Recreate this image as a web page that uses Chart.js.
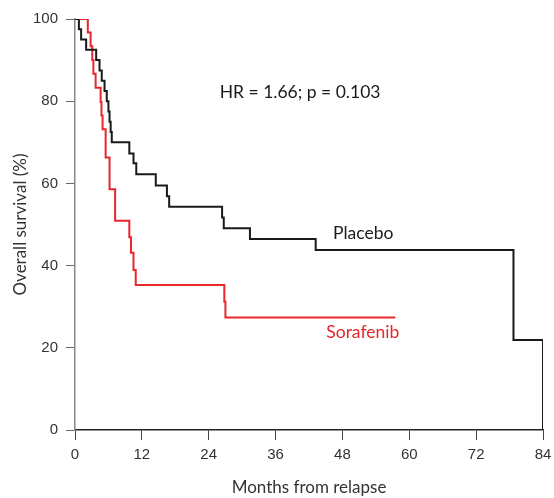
<!DOCTYPE html>
<html>
<head>
<meta charset="utf-8">
<script src="https://cdn.jsdelivr.net/npm/chart.js@4/dist/chart.umd.min.js"></script>
<style>
  html, body { margin: 0; padding: 0; background: #fff; }
  #wrap { width: 554px; height: 498px; }
</style>
</head>
<body>
<div id="wrap"><canvas id="myChart" width="554" height="498"></canvas></div>
<script>
// Kaplan-Meier steps: [month, survival %]
var placeboTimes = [0, 0.7, 1.1, 2.0, 3.8, 4.4, 4.8, 5.3, 5.7, 6.0, 6.2, 6.4, 6.6, 9.75, 10.5, 11.0, 14.5, 16.5, 16.9, 26.4, 26.7, 31.4, 43.2, 78.7, 84];
var placeboSurv  = [100, 97.5, 95, 92.5, 90, 87.5, 85, 82.5, 80, 77.5, 75, 72.5, 70, 67.3, 64.9, 62.2, 59.5, 56.9, 54.3, 51.7, 49.1, 46.5, 43.8, 21.9, 0];

var sorafenibTimes = [0, 2.3, 2.8, 3.1, 3.3, 3.7, 4.6, 4.75, 4.95, 5.5, 6.2, 7.2, 9.75, 10.05, 10.5, 10.9, 26.8, 27.0, 57.5];
var sorafenibSurv  = [100, 96.7, 93.4, 90, 86.7, 83.3, 79.8, 76.5, 73.2, 66.3, 58.6, 50.9, 46.9, 43.1, 38.9, 35.3, 31.2, 27.4, 27.4];

var xTicks = [0, 12, 24, 36, 48, 60, 72, 84];
var yTicks = [0, 20, 40, 60, 80, 100];

// text labels, placed in data units
var notes = [
    { text: 'HR = 1.66; p = 0.103', x: 40.4, y: 82.2, color: '#1a1a1a', align: 'center' },
    { text: 'Placebo', x: 46.3, y: 47.9, color: '#1a1a1a', align: 'left' },
    { text: 'Sorafenib', x: 45.1, y: 23.8, color: '#e8262b', align: 'left' }
];

function toPoints(xs, ys) {
    return xs.map(function(x, i) { return { x: x, y: ys[i] }; });
}

var titleFont = { family: 'Lato, "Open Sans", sans-serif', size: 17 };
var tickFont = { family: '"Liberation Sans", Arial, sans-serif', size: 15 };

var notesPlugin = {
    id: 'notes',
    afterDatasetsDraw: function(chart) {
        var ctx = chart.ctx;
        var xs = chart.scales.x, ys = chart.scales.y;
        ctx.save();
        ctx.font = '17.5px ' + titleFont.family;
        ctx.textBaseline = 'middle';
        notes.forEach(function(n) {
            ctx.fillStyle = n.color;
            ctx.textAlign = n.align;
            ctx.fillText(n.text, xs.getPixelForValue(n.x), ys.getPixelForValue(n.y));
        });
        ctx.restore();
    }
};

var ctx = document.getElementById('myChart').getContext('2d');
var myChart = new Chart(ctx, {
    type: 'line',
    data: {
        datasets: [{
            label: 'Placebo',
            data: toPoints(placeboTimes, placeboSurv),
            borderColor: '#1a1a1a',
            borderWidth: 2,
            stepped: true,
            pointRadius: 0,
            fill: false
        }, {
            label: 'Sorafenib',
            data: toPoints(sorafenibTimes, sorafenibSurv),
            borderColor: '#e8262b',
            borderWidth: 2,
            stepped: true,
            pointRadius: 0,
            fill: false
        }]
    },
    options: {
        responsive: false,
        animation: false,
        layout: { padding: { top: 19, right: 11, left: 0, bottom: 0 } },
        plugins: {
            legend: { display: false },
            tooltip: { enabled: false }
        },
        scales: {
            x: {
                type: 'linear',
                min: 0,
                max: 84,
                afterBuildTicks: function(axis) {
                    axis.ticks = xTicks.map(function(v) { return { value: v }; });
                },
                afterFit: function(axis) {
                    axis.height = 68;
                    axis.paddingLeft = 0;
                    axis.paddingRight = 0;
                },
                grid: { drawOnChartArea: false, drawTicks: true, tickLength: 10, color: '#222', tickColor: '#444' },
                border: { color: '#222', width: 1.5 },
                ticks: { font: tickFont, color: '#333', padding: 6, maxRotation: 0 },
                title: { display: true, text: 'Months from relapse', font: titleFont, color: '#333', padding: { top: 0, bottom: 0 } }
            },
            y: {
                min: 0,
                max: 100,
                afterBuildTicks: function(axis) {
                    axis.ticks = yTicks.map(function(v) { return { value: v }; });
                },
                afterFit: function(axis) {
                    axis.width = 75;
                    axis.paddingTop = 0;
                    axis.paddingBottom = 0;
                },
                grid: { drawOnChartArea: false, drawTicks: true, tickLength: 9, tickColor: '#666' },
                border: { color: '#888', width: 1.5 },
                ticks: { font: tickFont, color: '#333', padding: 8 },
                title: { display: true, text: 'Overall survival (%)', font: titleFont, color: '#333', padding: { top: 10, bottom: 0 } }
            }
        }
    },
    plugins: [notesPlugin]
});
</script>
</body>
</html>
